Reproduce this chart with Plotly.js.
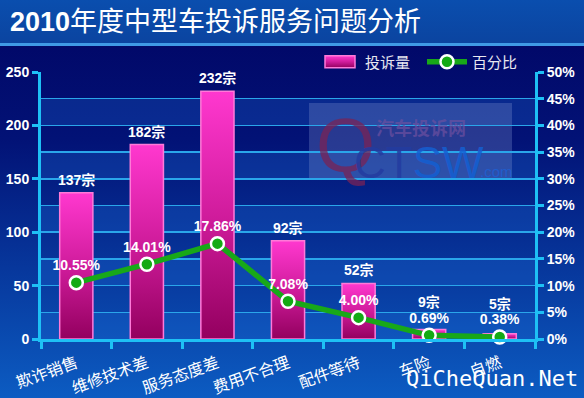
<!DOCTYPE html>
<html>
<head>
<meta charset="utf-8">
<script src="https://cdn.plot.ly/plotly-3.0.1.min.js"></script>
<style>
html,body{margin:0;padding:0;background:#02086c;}
#chart{width:584px;height:398px;}
</style>
</head>
<body>
<div id="chart"></div>
<script>
// ---- data ----
var categories = ["欺诈销售","维修技术差","服务态度差","费用不合理","配件等待","车险","自燃"];
var complaints = [137, 182, 232, 92, 52, 9, 5];
var percents = [10.55, 14.01, 17.86, 7.08, 4.00, 0.69, 0.38];
var leftTicks = [0, 50, 100, 150, 200, 250];
var rightTicks = [0, 5, 10, 15, 20, 25, 30, 35, 40, 45, 50];

var W = 584, H = 398, ML = 41, MR = 49, MT = 72, MB = 59;
var PW = W - ML - MR, PH = H - MT - MB;
var LMAX = 250, RMAX = 50;

// background image (paper gradient + banner)
var bgSvg = '<svg xmlns="http://www.w3.org/2000/svg" width="584" height="398" viewBox="0 0 584 398" preserveAspectRatio="none">' +
  '<defs>' +
  '<linearGradient id="b" x1="0" y1="0" x2="0" y2="1"><stop offset="0" stop-color="#010463"/><stop offset="0.35" stop-color="#021276"/><stop offset="1" stop-color="#0c5cc2"/></linearGradient>' +
  '<linearGradient id="t" x1="0" y1="0" x2="0" y2="1"><stop offset="0" stop-color="#0a4eae"/><stop offset="1" stop-color="#0b44a0"/></linearGradient>' +
  '</defs>' +
  '<rect x="0" y="0" width="584" height="398" fill="url(#b)"/>' +
  '<rect x="0" y="0" width="584" height="43" fill="url(#t)"/>' +
  '<rect x="0" y="43" width="584" height="3" fill="#3f9ae6"/>' +
  '</svg>';
var bgURI = 'data:image/svg+xml;charset=utf-8,' + encodeURIComponent(bgSvg);

function px2x(p){ return (p - ML) / PW; }
function px2y(p){ return (H - MB - p) / PH; }

var axisColor = '#1ec0f5';
var numFont = {family: 'Liberation Sans, Arial, sans-serif', size: 14, color: '#ffffff', weight: 'bold'};
var legendFont = {family:'Noto Sans CJK SC, sans-serif', size:15, color:'#e8e8f0'};

// alternating band shapes built from the left axis range
var shapes = [];
for (var v = 0; v < LMAX; v += 50) {
  shapes.push({type:'rect', xref:'paper', yref:'y', x0:0, x1:1, y0:v, y1:v+25,
    fillcolor:'rgba(30,110,220,0.28)', line:{width:0}, layer:'below'});
}
// watermark box
shapes.push({type:'rect', xref:'paper', yref:'paper', x0:px2x(309), x1:px2x(512), y0:px2y(180), y1:px2y(103),
  fillcolor:'rgba(130,150,210,0.30)', line:{width:0}, layer:'below'});

var barTrace = {
  type:'bar', name:'投诉量', x:categories, y:complaints, yaxis:'y', legend:'legend',
  width:0.47,
  marker:{color:'#d8209e', line:{color:'#ff7ad8', width:1.5}},
  hoverinfo:'skip'
};
var lineTrace = {
  type:'scatter', mode:'lines+markers+text', name:'百分比', x:categories, y:percents, yaxis:'y2', legend:'legend2',
  line:{color:'#18a818', width:5.5},
  marker:{color:'#14aa14', size:13, line:{color:'#ffffff', width:2.5}},
  text: percents.map(function(p){return p.toFixed(2) + '%';}),
  textposition:'top center', cliponaxis:false,
  textfont:{family:'Liberation Sans, Arial, sans-serif', size:14, color:'#ffffff', weight:'bold'},
  hoverinfo:'skip'
};

var annotations = [
  {xref:'paper', yref:'paper', x:px2x(8), y:px2y(22), xanchor:'left', yanchor:'middle', showarrow:false,
   text:'<b>2010</b>年度中型车投诉服务问题分析',
   font:{family:'Liberation Sans, Noto Sans CJK SC, sans-serif', size:27, color:'#ffffff'}},
  {xref:'paper', yref:'paper', x:px2x(314), y:px2y(144), xanchor:'left', yanchor:'middle', showarrow:false,
   text:'Q', font:{family:'Liberation Sans, sans-serif', size:76, color:'rgba(120,35,85,0.75)'}},
  {xref:'paper', yref:'paper', x:px2x(352), y:px2y(162), xanchor:'left', yanchor:'middle', showarrow:false,
   text:'<span style="color:rgba(35,60,160,0.85)">CT</span><span style="color:rgba(20,95,210,0.85)">SW</span>',
   font:{family:'Liberation Sans, sans-serif', size:44}},
  {xref:'paper', yref:'paper', x:px2x(478), y:px2y(171), xanchor:'left', yanchor:'middle', showarrow:false,
   text:'.com', font:{family:'Liberation Sans, sans-serif', size:15, color:'rgba(30,95,210,0.85)'}},
  {xref:'paper', yref:'paper', x:px2x(374), y:px2y(127), xanchor:'left', yanchor:'middle', showarrow:false,
   text:'<b>汽车投诉网</b>', font:{family:'Noto Sans CJK SC, sans-serif', size:18, color:'rgba(110,80,160,0.7)'}},
  {xref:'paper', yref:'paper', x:px2x(580), y:px2y(378), xanchor:'right', yanchor:'middle', showarrow:false,
   text:'QiCheQuan.Net', font:{family:'DejaVu Sans Mono, monospace', size:22, color:'#ffffff'}}
];
// bar value labels: placed above the bar, lifted clear of the percentage label when needed
for (var i = 0; i < categories.length; i++) {
  var barPx = complaints[i] / LMAX * PH;
  var markPx = percents[i] / RMAX * PH;
  var shift = Math.max(3, markPx + 23 - barPx);
  annotations.push({xref:'x', yref:'y', x:categories[i], y:complaints[i], xanchor:'center', yanchor:'bottom',
    yshift:shift, showarrow:false, text:complaints[i] + '宗',
    font:{family:'Liberation Sans, Noto Sans CJK SC, sans-serif', size:14, color:'#ffffff', weight:'bold'}});
}

var layout = {
  width:W, height:H,
  margin:{l:ML, r:MR, t:MT, b:MB, pad:0},
  paper_bgcolor:'#02086c', plot_bgcolor:'rgba(0,0,0,0)',
  showlegend:true,
  legend:{orientation:'h', x:px2x(315), xanchor:'left', y:px2y(62), yanchor:'middle',
    font:legendFont, bgcolor:'rgba(0,0,0,0)', itemwidth:40},
  legend2:{orientation:'h', x:px2x(422), xanchor:'left', y:px2y(62), yanchor:'middle',
    font:legendFont, bgcolor:'rgba(0,0,0,0)', itemwidth:40},
  images:[{source:bgURI, xref:'paper', yref:'paper', x:px2x(0), y:px2y(0),
    sizex:W/PW, sizey:H/PH, sizing:'stretch', xanchor:'left', yanchor:'top', layer:'below'}],
  xaxis:{type:'category', range:[-0.5, categories.length - 0.5], showline:true, linecolor:axisColor, linewidth:3,
    ticks:'outside', tickson:'boundaries', ticklen:7, tickwidth:3, tickcolor:axisColor,
    tickangle:-20, ticklabelstandoff:6, tickfont:{family:'Noto Sans CJK SC, sans-serif', size:16, color:'#ffffff'},
    showgrid:false, zeroline:false, fixedrange:true, automargin:false},
  yaxis:{range:[0,LMAX], tickvals:leftTicks, ticktext:leftTicks.map(String),
    showline:true, linecolor:axisColor, linewidth:3,
    ticks:'outside', ticklen:6, tickwidth:3, tickcolor:axisColor,
    showgrid:true, gridcolor:'#2aa6ea', gridwidth:1.5,
    minor:{dtick:25, showgrid:true, gridcolor:'#2aa6ea', gridwidth:1.5, ticks:''},
    zeroline:false, tickfont:numFont, fixedrange:true, automargin:false},
  yaxis2:{range:[0,RMAX], overlaying:'y', side:'right', tickvals:rightTicks,
    ticktext:rightTicks.map(function(t){return t + '%';}),
    showline:true, linecolor:axisColor, linewidth:3,
    ticks:'outside', ticklen:6, tickwidth:3, tickcolor:axisColor,
    showgrid:false, zeroline:false, tickfont:numFont, fixedrange:true, automargin:false},
  shapes:shapes,
  annotations:annotations
};

function restyleBars(gd){
  var svgNS = 'http://www.w3.org/2000/svg';
  var main = gd.querySelector('.main-svg');
  if (!document.getElementById('barGrad')) {
    var defs = main.querySelector('defs') || main.insertBefore(document.createElementNS(svgNS,'defs'), main.firstChild);
    var g = document.createElementNS(svgNS, 'linearGradient');
    g.setAttribute('id','barGrad'); g.setAttribute('x1','0'); g.setAttribute('y1','0'); g.setAttribute('x2','0'); g.setAttribute('y2','1');
    [['0','#ff38cf'],['0.5','#d01c9c'],['1','#93005f']].forEach(function(s){
      var st = document.createElementNS(svgNS,'stop');
      st.setAttribute('offset', s[0]); st.setAttribute('stop-color', s[1]); g.appendChild(st);
    });
    defs.appendChild(g);
  }
  gd.querySelectorAll('.barlayer .point path').forEach(function(p){ p.style.fill = 'url(#barGrad)'; });
  gd.querySelectorAll('g.legend .legendpoints path').forEach(function(p){
    p.style.fill = 'url(#barGrad)';
    p.setAttribute('d', 'M15,6H-15V-6H15Z');
  });
}

Plotly.newPlot('chart', [barTrace, lineTrace], layout, {displayModeBar:false, staticPlot:true}).then(function(gd){
  restyleBars(gd);
  setTimeout(function(){ restyleBars(gd); }, 200);
});
</script>
</body>
</html>
